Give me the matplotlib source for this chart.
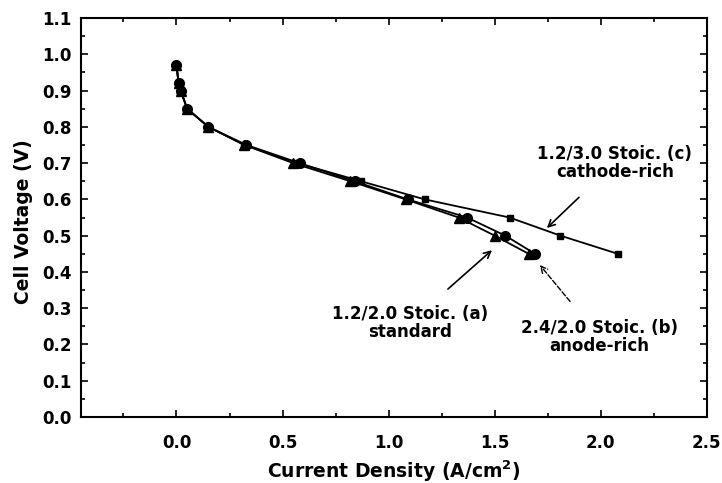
import numpy as np
import matplotlib
matplotlib.use("Agg")
import matplotlib.pyplot as plt
from matplotlib.ticker import MultipleLocator, FixedLocator

plt.rcParams['font.family'] = ['DejaVu Sans']
plt.rcParams['mathtext.fontset'] = 'dejavusans'

# cell voltage steps (V), shared by the three runs
voltage = [0.97, 0.92, 0.90, 0.85, 0.80, 0.75, 0.70, 0.65, 0.60, 0.55, 0.50, 0.45]

# current density (A/cm2)
current_std = [0.00, 0.01, 0.02, 0.05, 0.15, 0.32, 0.55, 0.82, 1.08, 1.33, 1.50, 1.66]
current_anode = [0.00, 0.01, 0.02, 0.05, 0.15, 0.33, 0.58, 0.84, 1.09, 1.37, 1.55, 1.69]
current_cathode = [0.00, 0.01, 0.02, 0.05, 0.15, 0.32, 0.57, 0.87, 1.17, 1.57, 1.81, 2.08]

fig = plt.figure(figsize=(7.22, 4.83), dpi=100)
ax = fig.add_axes([0.1122, 0.1366, 0.979 - 0.1122, 0.9627 - 0.1366])

ax.plot(current_cathode, voltage, color='black', lw=1.3, marker='s', ms=4.5)
ax.plot(current_anode, voltage, color='black', lw=1.3, marker='o', ms=7)
ax.plot(current_std, voltage, color='black', lw=1.3, marker='^', ms=7)

ax.set_xlim(-0.45, 2.5)
ax.set_ylim(0.0, 1.1)
ax.xaxis.set_major_locator(FixedLocator([0.0, 0.5, 1.0, 1.5, 2.0, 2.5]))
ax.xaxis.set_minor_locator(FixedLocator([-0.25, 0.25, 0.75, 1.25, 1.75, 2.25]))
ax.yaxis.set_major_locator(MultipleLocator(0.1))
ax.yaxis.set_minor_locator(MultipleLocator(0.05))
ax.xaxis.set_major_formatter(plt.FuncFormatter(lambda v, p: f"{v:.1f}"))
ax.yaxis.set_major_formatter(plt.FuncFormatter(lambda v, p: f"{v:.1f}"))
ax.tick_params(which='both', direction='in', top=True, right=True, width=1.2)
ax.tick_params(which='major', length=5, labelsize=12)
ax.tick_params(axis='x', which='major', pad=12)
ax.tick_params(axis='y', which='major', pad=6.5)
ax.tick_params(which='minor', length=3)
for lbl in ax.get_xticklabels() + ax.get_yticklabels():
    lbl.set_fontweight('bold')
for s in ax.spines.values():
    s.set_linewidth(1.5)

ax.set_xlabel('Current Density (A/cm$^{\\mathbf{2}}$)', fontsize=13.5, fontweight='bold')
ax.set_ylabel('Cell Voltage (V)', fontsize=13.5, fontweight='bold')
ax.xaxis.set_label_coords(0.5, -0.105)
ax.yaxis.set_label_coords(-0.077, 0.49)

ax.annotate('1.2/3.0 Stoic. (c)\ncathode-rich', xy=(1.746, 0.521), xytext=(2.066, 0.70),
            ha='center', va='center', fontsize=12, fontweight='bold', linespacing=1.0,
            arrowprops=dict(arrowstyle='->', color='black', lw=1.2,
                            shrinkA=14, shrinkB=0))
ax.annotate('1.2/2.0 Stoic. (a)\nstandard', xy=(1.487, 0.460), xytext=(1.10, 0.26),
            ha='center', va='center', fontsize=12, fontweight='bold', linespacing=1.0,
            arrowprops=dict(arrowstyle='->', color='black', lw=1.2,
                            shrinkA=14, shrinkB=0))
ax.annotate('2.4/2.0 Stoic. (b)\nanode-rich', xy=(1.713, 0.419), xytext=(1.995, 0.22),
            ha='center', va='center', fontsize=12, fontweight='bold', linespacing=1.0,
            arrowprops=dict(arrowstyle='->', color='black', lw=1.0, linestyle='--',
                            shrinkA=14, shrinkB=0))

fig.savefig('out.png', dpi=100)
